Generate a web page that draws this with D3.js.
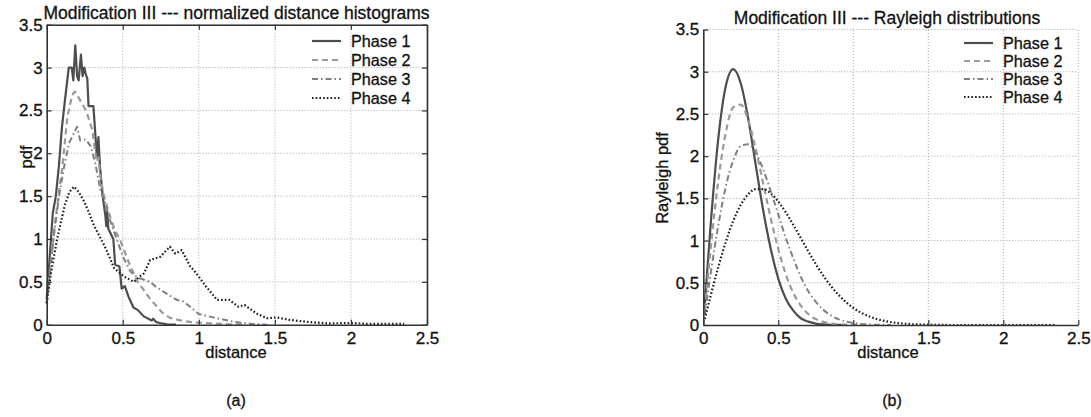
<!DOCTYPE html>
<html lang="en">
<head>
<meta charset="utf-8">
<title>Modification III</title>
<script src="https://d3js.org/d3.v7.min.js"></script>
<style>
  body { margin: 0; background: #fff; }
  text { font-family: "Liberation Sans", Arial, Helvetica, sans-serif; fill: #111; stroke: #111; stroke-width: 0.3px; }
</style>
</head>
<body>
<div id="chart"></div>
<script>
// tick labels
var xTicks = [0, 0.5, 1, 1.5, 2, 2.5];
var yTicks = [0, 0.5, 1, 1.5, 2, 2.5, 3, 3.5];
var phaseNames = ["Phase 1", "Phase 2", "Phase 3", "Phase 4"];

// (a) normalized distance histograms, [distance, pdf]
var hist1 = [[0,0.3],[0.02,0.8],[0.04,1.3],[0.06,1.5],[0.08,1.85],[0.1,2.3],[0.12,2.62],[0.145,3.0],
  [0.165,3.0],[0.175,2.85],[0.188,3.26],[0.2,2.9],[0.21,2.85],[0.225,3.15],[0.236,2.9],[0.247,3.0],
  [0.257,2.92],[0.267,2.87],[0.275,2.55],[0.307,2.55],[0.33,1.95],[0.34,2.19],[0.35,1.85],[0.368,1.5],
  [0.385,1.28],[0.392,1.15],[0.398,1.32],[0.405,1.12],[0.438,1.0],[0.45,0.7],[0.478,0.68],[0.493,0.42],
  [0.514,0.45],[0.537,0.33],[0.57,0.2],[0.6,0.17],[0.636,0.1],[0.69,0.05],[0.7,0.07],[0.72,0.03],
  [0.745,0.02],[0.79,0.005],[0.85,0]];
var hist2 = [[0,0.25],[0.026,0.7],[0.048,1.09],[0.081,1.55],[0.103,1.84],[0.136,2.43],[0.168,2.68],
  [0.185,2.72],[0.2,2.68],[0.245,2.54],[0.263,2.48],[0.3,2.27],[0.32,2.0],[0.33,1.9],[0.34,1.95],
  [0.355,1.7],[0.377,1.5],[0.42,1.24],[0.45,1.1],[0.487,0.97],[0.53,0.77],[0.59,0.52],[0.64,0.4],
  [0.68,0.3],[0.72,0.22],[0.76,0.14],[0.81,0.08],[0.88,0.05],[0.95,0.03],[1.05,0.02],[1.2,0.005],[1.3,0]];
var hist3 = [[0,0.25],[0.026,0.68],[0.048,1.05],[0.081,1.5],[0.114,1.84],[0.147,2.12],[0.2,2.31],
  [0.22,2.15],[0.257,2.16],[0.29,2.08],[0.32,1.88],[0.355,1.55],[0.37,1.5],[0.42,1.2],[0.46,1.0],
  [0.5,0.8],[0.55,0.62],[0.6,0.55],[0.68,0.5],[0.72,0.44],[0.767,0.385],[0.855,0.29],[0.9,0.27],
  [0.943,0.21],[1.0,0.125],[1.12,0.075],[1.23,0.035],[1.34,0.01],[1.45,0]];
var hist4 = [[0,0.25],[0.004,0.31],[0.026,0.58],[0.05,0.82],[0.07,1.01],[0.1,1.25],[0.12,1.4],
  [0.15,1.55],[0.18,1.61],[0.21,1.55],[0.245,1.44],[0.28,1.3],[0.31,1.16],[0.345,1.04],[0.377,0.93],
  [0.41,0.8],[0.443,0.66],[0.51,0.56],[0.574,0.5],[0.61,0.56],[0.64,0.6],[0.68,0.755],[0.745,0.79],
  [0.81,0.91],[0.845,0.83],[0.888,0.87],[0.943,0.68],[0.965,0.64],[1.0,0.56],[1.05,0.44],[1.12,0.29],
  [1.2,0.29],[1.26,0.21],[1.3,0.23],[1.38,0.13],[1.45,0.075],[1.51,0.085],[1.6,0.055],[1.73,0.03],
  [1.85,0.015],[2.0,0.02],[2.1,0.01],[2.35,0.01]];

// (b) Rayleigh distributions, sampled on rayX
var rayX = [0.01,0.05,0.1,0.15,0.2,0.25,0.3,0.35,0.4,0.45,0.5,0.55,0.6,0.65,0.7,0.75,0.8,0.85,0.9,0.95,
  1.0,1.05,1.1,1.15,1.2,1.25,1.3,1.35,1.4,1.45,1.5,1.55,1.6,1.65,1.7,1.75,1.8,1.85,1.9,1.95,
  2.0,2.05,2.1,2.15,2.2,2.25,2.3,2.35];
var ray1 = [0.25,1.21,2.21,2.83,3.03,2.86,2.44,1.89,1.35,0.90,0.55,0.31,0.17,0.08,0.04,0.017,0.007,0.0025,0.001,0];
var ray2 = [0.19,0.92,1.71,2.28,2.58,2.61,2.42,2.08,1.67,1.26,0.90,0.60,0.38,0.23,0.13,0.07,0.037,0.018,0.008,0.004,0.0016,0];
var ray3 = [0.126,0.62,1.18,1.64,1.95,2.12,2.14,2.04,1.84,1.58,1.31,1.03,0.79,0.57,0.40,0.275,0.18,0.114,0.07,0.041,
  0.024,0.013,0.007,0.0036,0.0018,0];
var ray4 = [0.071,0.352,0.686,0.985,1.234,1.424,1.549,1.610,1.610,1.558,1.462,1.334,1.186,1.029,0.872,0.722,0.584,
  0.463,0.359,0.273,0.203,0.148,0.106,0.074,0.051,0.034,0.023,0.015,0.009,0.006,0.004,0.002,0.001,
  0,0,0,0,0,0,0,0,0,0,0,0,0,0,0];

// line styles per phase
var styles = [
  {stroke: "#4d4d4d", width: 2.2, dash: null},
  {stroke: "#9a9a9a", width: 2.2, dash: "6,4"},
  {stroke: "#808080", width: 2, dash: "6,3,1.5,3"},
  {stroke: "#1e1e1e", width: 2.2, dash: "1.6,2.1"}
];

function pairs(xs, ys) {
  return ys.map(function(y, i) { return [xs[i], y]; });
}

var svg = d3.select("#chart").append("svg")
  .attr("width", 1091)
  .attr("height", 417);

function drawPanel(cfg, series) {
  var x = d3.scaleLinear().domain([0, 2.5]).range([cfg.left, cfg.right]);
  var y = d3.scaleLinear().domain([0, 3.5]).range([cfg.bottom, cfg.top]);
  var g = svg.append("g");

  // dotted grid
  g.selectAll(".vgrid").data(xTicks.slice(1)).enter().append("line")
    .attr("x1", function(d) { return x(d); }).attr("x2", function(d) { return x(d); })
    .attr("y1", y(0)).attr("y2", y(3.5))
    .attr("stroke", "#a8a8a8").attr("stroke-width", 1).attr("stroke-dasharray", "1,2");
  g.selectAll(".hgrid").data(yTicks.slice(1)).enter().append("line")
    .attr("x1", x(0)).attr("x2", x(2.5))
    .attr("y1", function(d) { return y(d); }).attr("y2", function(d) { return y(d); })
    .attr("stroke", "#a8a8a8").attr("stroke-width", 1).attr("stroke-dasharray", "1,2");

  // curves
  var line = d3.line()
    .x(function(d) { return x(d[0]); })
    .y(function(d) { return y(d[1]); })
    .curve(cfg.curve);
  series.forEach(function(s, i) {
    g.append("path")
      .attr("d", line(s))
      .attr("fill", "none")
      .attr("stroke", styles[i].stroke)
      .attr("stroke-width", styles[i].width)
      .attr("stroke-dasharray", styles[i].dash)
      .attr("stroke-linejoin", "round");
  });

  // axes
  var xAxis = d3.axisBottom(x).tickValues(xTicks).tickFormat(d3.format("")).tickSizeInner(-5).tickSizeOuter(0).tickPadding(7);
  var yAxis = d3.axisLeft(y).tickValues(yTicks).tickFormat(d3.format("")).tickSizeInner(-5).tickSizeOuter(0).tickPadding(4);
  g.append("g").attr("transform", "translate(0," + cfg.bottom + ")").call(xAxis);
  g.append("g").attr("transform", "translate(" + cfg.left + ",0)").call(yAxis);
  if (cfg.box) {
    g.append("g").attr("transform", "translate(0," + cfg.top + ")")
      .call(d3.axisTop(x).tickValues(xTicks).tickFormat("").tickSizeInner(-5).tickSizeOuter(0));
    g.append("g").attr("transform", "translate(" + cfg.right + ",0)")
      .call(d3.axisRight(y).tickValues(yTicks).tickFormat("").tickSizeInner(-5).tickSizeOuter(0));
  }
  g.selectAll(".domain").attr("stroke", "#333").attr("stroke-width", 1.6);
  g.selectAll(".tick line").attr("stroke", "#333").attr("stroke-width", 1.2);
  g.selectAll(".tick text").attr("font-size", 17).attr("fill", "#111")
    .attr("font-family", "'Liberation Sans', Arial, sans-serif");

  // titles and labels
  g.append("text").attr("x", cfg.titleX).attr("y", cfg.titleY).attr("text-anchor", "middle")
    .attr("font-size", 17.5).text(cfg.title);
  g.append("text").attr("x", cfg.xlabelX).attr("y", 358).attr("text-anchor", "middle")
    .attr("font-size", 16.5).text("distance");
  g.append("text").attr("transform", "translate(" + cfg.ylabelX + "," + cfg.ylabelY + ") rotate(-90)")
    .attr("text-anchor", "middle").attr("font-size", 16.5).text(cfg.ylabel);
  g.append("text").attr("x", cfg.capX).attr("y", 406).attr("text-anchor", "middle")
    .attr("font-size", 16).text(cfg.caption);

  // legend
  phaseNames.forEach(function(name, i) {
    var ly = cfg.legendY + i * cfg.legendStep;
    g.append("line")
      .attr("x1", cfg.legendX).attr("x2", cfg.legendX + 29)
      .attr("y1", ly).attr("y2", ly)
      .attr("stroke", styles[i].stroke)
      .attr("stroke-width", styles[i].width)
      .attr("stroke-dasharray", styles[i].dash);
    g.append("text").attr("x", cfg.legendX + 39).attr("y", ly + 5.8)
      .attr("font-size", 16.2).text(name);
  });
}

drawPanel({
  left: 46.7, right: 427, top: 24.7, bottom: 324.7, box: true,
  curve: d3.curveLinear,
  title: "Modification III --- normalized distance histograms", titleX: 236.5, titleY: 19,
  ylabel: "pdf", ylabelX: 32, ylabelY: 157, xlabelX: 236, capX: 236, caption: "(a)",
  legendX: 312, legendY: 41, legendStep: 19
}, [hist1, hist2, hist3, hist4]);

drawPanel({
  left: 703.3, right: 1078.3, top: 29.5, bottom: 325, box: false,
  curve: d3.curveMonotoneX,
  title: "Modification III --- Rayleigh distributions", titleX: 887, titleY: 24,
  ylabel: "Rayleigh pdf", ylabelX: 668, ylabelY: 178, xlabelX: 888, capX: 892, caption: "(b)",
  legendX: 964, legendY: 43, legendStep: 18
}, [pairs(rayX, ray1), pairs(rayX, ray2), pairs(rayX, ray3), pairs(rayX, ray4)]);
</script>
</body>
</html>
